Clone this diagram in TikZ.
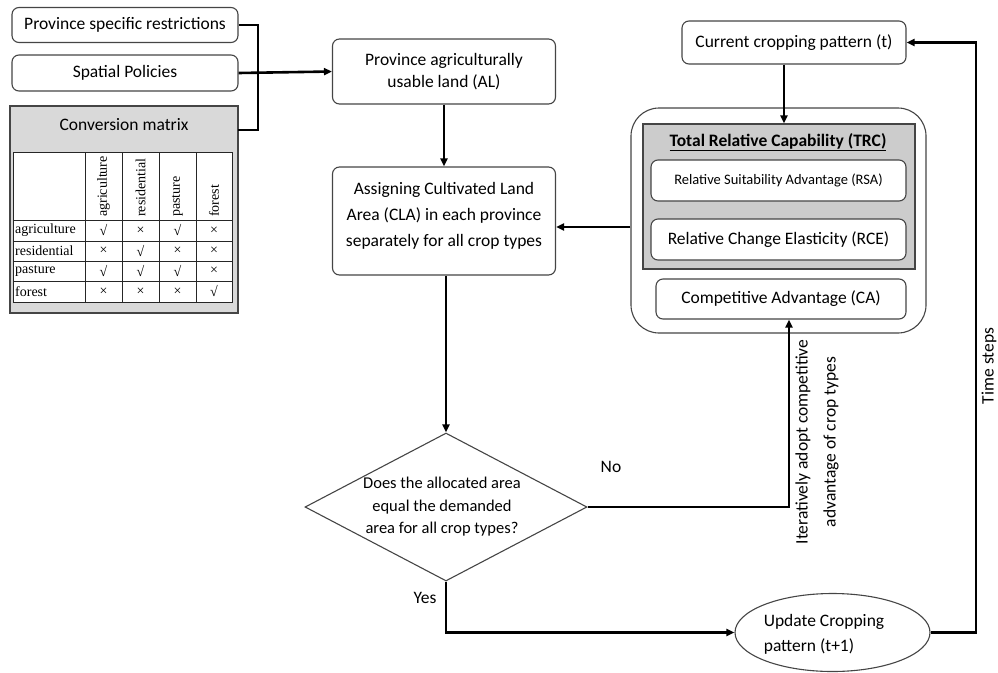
\documentclass[tikz,border=0pt]{standalone}
\usepackage{fontspec}
\setmainfont{Carlito}
\newfontfamily\tabfont{Liberation Serif}
\usetikzlibrary{arrows.meta,shapes.geometric,calc}
\definecolor{edge}{HTML}{454545}
\begin{document}
\begin{tikzpicture}[x=1pt,y=-1pt,
  box/.style={draw=edge, line width=1.1pt, rounded corners=7pt, fill=white, align=center, inner sep=0pt, font=\fontsize{17.5}{22}\selectfont},
  gbox/.style={draw=edge, line width=1.1pt, align=center, inner sep=0pt},
  conn/.style={line width=2.6pt, black},
  arr/.style={conn, -{Triangle[length=8pt,width=7pt]}},
  lbl/.style={font=\fontsize{17.5}{26}\selectfont, align=center, inner sep=0pt},
  tab/.style={font=\tabfont\fontsize{14}{14}\selectfont, inner sep=0pt},
  tline/.style={line width=0.9pt, black!85}
]
\useasboundingbox (0,0) rectangle (998,672);

% left column
\node[box, minimum width=226, minimum height=35] (b1) at (125,25) {Province specific restrictions};
\node[box, minimum width=226, minimum height=36] (b2) at (125,73) {Spatial Policies};
\node[gbox, fill=gray!30, minimum width=228, minimum height=207] (conv) at (124,209.5) {};
\node[lbl] (convt) at (124,125) {Conversion matrix};

% table
\fill[white] (13,152) rectangle (232,302);
\foreach \xx in {85,122,159,196} \draw[tline] (\xx,152) -- (\xx,302);
\foreach \yy in {220,241,261,281} \draw[tline] (13,\yy) -- (232,\yy);
\draw[tline] (13,152) rectangle (232,302);
\foreach \n/\cx in {agriculture/103.5, residential/140.5, pasture/177.5, forest/214}
  \node[tab, rotate=90, anchor=west] (h-\n) at (\cx,217) {\n};
\foreach \n/\cy/\a/\b/\c/\d in {agriculture/230.5/√/×/√/×, residential/251/×/√/×/×, pasture/271/√/√/√/×, forest/291.5/×/×/×/√}{
  \node[tab, anchor=west] (r-\n) at (15,\cy) {\n};
  \node[tab] (c-\n-1) at (103.5,\cy) {\a};
  \node[tab] (c-\n-2) at (140.5,\cy) {\b};
  \node[tab] (c-\n-3) at (177.5,\cy) {\c};
  \node[tab] (c-\n-4) at (214,\cy) {\d};
}

% middle column
\node[box, minimum width=223, minimum height=65] (al) at (444,71.5) {Province agriculturally\\usable land (AL)};
\node[box, minimum width=223, minimum height=108] (cla) at (444,221) {};
\node[lbl, font=\fontsize{17.5}{26}\selectfont] (clat) at (444,216) {Assigning Cultivated Land\\Area (CLA) in each province\\separately for all crop types};
\node[draw=edge, line width=1.1pt, diamond, minimum width=282, minimum height=148, inner sep=0pt] (dec) at (446,507) {};
\node[lbl, font=\fontsize{16.5}{22.5}\selectfont] (dect) at (442,507) {Does the allocated area\\equal the demanded\\area for all crop types?};

% right column
\node[box, minimum width=224, minimum height=43] (cur) at (794,42.5) {Current cropping pattern (t)};
\node[draw=edge, line width=1.1pt, rounded corners=28pt, fill=white, minimum width=295, minimum height=225, inner sep=0pt] (outer) at (778.5,220.5) {};
\node[gbox, fill=gray!40, minimum width=272, minimum height=145] (trc) at (779,196.5) {};
\node[lbl, font=\fontsize{17.5}{20}\bfseries] (trct) at (778,142) {\underline{Total Relative Capability (TRC)}};
\node[box, minimum width=255, minimum height=41, font=\fontsize{14.5}{17}\selectfont] (rsa) at (778.5,180.5) {Relative Suitability Advantage (RSA)};
\node[box, minimum width=255, minimum height=41] (rce) at (778.5,239.5) {Relative Change Elasticity (RCE)};
\node[box, minimum width=250, minimum height=40] (ca) at (781,299) {Competitive Advantage (CA)};
\node[draw=edge, line width=1.1pt, ellipse, minimum width=195, minimum height=78, inner sep=0pt] (ell) at (832.5,632.5) {};
\node[lbl, align=left, font=\fontsize{17.5}{25}\selectfont] (ellt) at (824,634) {Update Cropping\\pattern (t+1)};

% labels
\node[lbl] (no) at (611,467) {No};
\node[lbl] (yes) at (425,598) {Yes};
\node[lbl, rotate=90, font=\fontsize{17.5}{28}\selectfont] (iter) at (817,442) {Iteratively adopt competitive\\advantage of crop types};
\node[lbl, rotate=90] (ts) at (989,366) {Time steps};

% connectors
\coordinate (j) at (258,73);
\coordinate (convr) at (238,130);
\draw[conn] (b1.east) -| (j) |- (convr);
\draw[arr] (b2.east) -- (al.west);
\draw[arr] (al.south) -- (cla.north);
\draw[arr] (cla.south -| dec.north) -- (dec.north);
\coordinate (ax) at (784,0);
\draw[arr] (cur.south -| ax) -- (trc.north -| ax);
\coordinate (ay) at (0,227);
\draw[arr] (outer.west |- ay) -- (cla.east |- ay);
\coordinate (nx) at (789,0);
\draw[arr] (dec.east) -| (ca.south -| nx);
\draw[arr] (dec.south) |- (ell.west);
\coordinate (tsx) at (976,0);
\draw[arr] (ell.east) -| (tsx |- cur.east) -- (cur.east);
\end{tikzpicture}
\end{document}
